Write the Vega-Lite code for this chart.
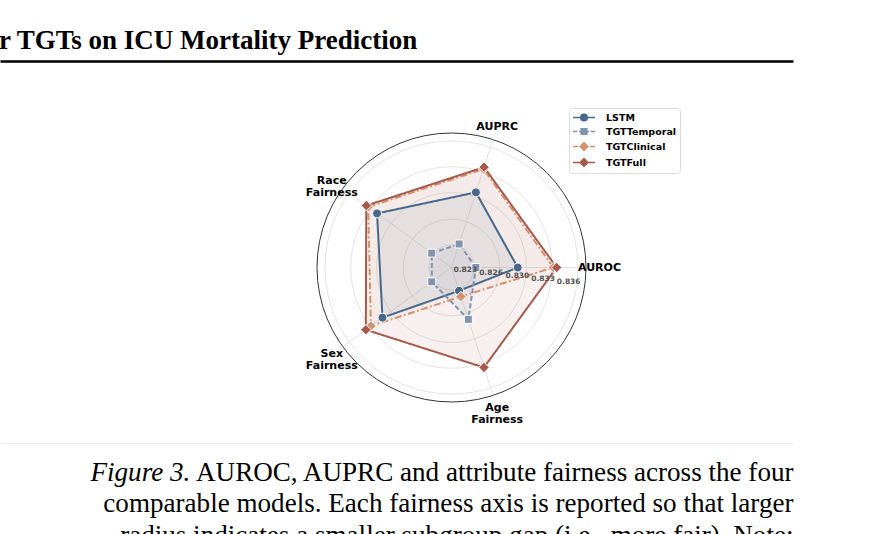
{
  "$schema": "https://vega.github.io/schema/vega-lite/v6.json",
  "width": 793,
  "height": 382,
  "autosize": {"type": "none"},
  "padding": {"left": 0, "top": 61, "right": 90, "bottom": 91},
  "background": "white",
  "title": {
    "text": "r TGTs on ICU Mortality Prediction",
    "anchor": "start",
    "frame": "group",
    "font": "Liberation Serif",
    "fontSize": 27,
    "fontWeight": "bold",
    "color": "black",
    "baseline": "alphabetic",
    "offset": 10,
    "dx": -1,
    "dy": 25
  },
  "datasets": {
    "scores": [
      {"model": "LSTM", "metric": "AUROC", "value": 0.82859},
      {"model": "LSTM", "metric": "AUPRC", "value": 0.83022},
      {"model": "LSTM", "metric": "Race Fairness", "value": 0.83189},
      {"model": "LSTM", "metric": "Sex Fairness", "value": 0.83103},
      {"model": "LSTM", "metric": "Age Fairness", "value": 0.82325},
      {"model": "TGTTemporal", "metric": "AUROC", "value": 0.82324},
      {"model": "TGTTemporal", "metric": "AUPRC", "value": 0.82328},
      {"model": "TGTTemporal", "metric": "Race Fairness", "value": 0.82324},
      {"model": "TGTTemporal", "metric": "Sex Fairness", "value": 0.82324},
      {"model": "TGTTemporal", "metric": "Age Fairness", "value": 0.82709},
      {"model": "TGTClinical", "metric": "AUROC", "value": 0.83314},
      {"model": "TGTClinical", "metric": "AUPRC", "value": 0.83336},
      {"model": "TGTClinical", "metric": "Race Fairness", "value": 0.83329},
      {"model": "TGTClinical", "metric": "Sex Fairness", "value": 0.83286},
      {"model": "TGTClinical", "metric": "Age Fairness", "value": 0.82403},
      {"model": "TGTFull", "metric": "AUROC", "value": 0.83357},
      {"model": "TGTFull", "metric": "AUPRC", "value": 0.83361},
      {"model": "TGTFull", "metric": "Race Fairness", "value": 0.83359},
      {"model": "TGTFull", "metric": "Sex Fairness", "value": 0.83366},
      {"model": "TGTFull", "metric": "Age Fairness", "value": 0.83356}
    ],
    "axes": [
      {"metric": "AUROC", "label": "AUROC"},
      {"metric": "AUPRC", "label": "AUPRC"},
      {"metric": "Race Fairness", "label": "Race\nFairness"},
      {"metric": "Sex Fairness", "label": "Sex\nFairness"},
      {"metric": "Age Fairness", "label": "Age\nFairness"}
    ],
    "rings": [
      {"ring": 0.823},
      {"ring": 0.8263},
      {"ring": 0.8297},
      {"ring": 0.833},
      {"ring": 0.8363}
    ]
  },
  "layer": [
    {
      "data": {"name": "rings"},
      "transform": [
        {"calculate": "(datum.ring - 0.82012) / 0.0172", "as": "rn"},
        {"calculate": "0", "as": "cx"},
        {"calculate": "0", "as": "cy"}
      ],
      "mark": {"type": "point", "shape": "circle", "filled": false, "stroke": "#dcdcdc", "strokeWidth": 0.8, "opacity": 1},
      "encoding": {
        "x": {
          "field": "cx", "type": "quantitative",
          "scale": {"domain": [-3.35688, 2.53903], "nice": false, "zero": false},
          "axis": {
            "orient": "bottom", "domainColor": "#ececec", "domainWidth": 1,
            "ticks": false, "labels": false, "grid": false,
            "title": ["AUROC, AUPRC and attribute fairness across the four", "comparable models. Each fairness axis is reported so that larger", "radius indicates a smaller subgroup gap (i.e., more fair). Note:"],
            "titleFont": "Liberation Serif", "titleFontSize": 27.1, "titleFontWeight": "normal", "titleColor": "black",
            "titleAnchor": "end", "titleAlign": "right", "titleBaseline": "alphabetic",
            "titleLineHeight": 31.7, "titlePadding": 37
          }
        },
        "y": {
          "field": "cy", "type": "quantitative",
          "scale": {"domain": [-1.30483, 1.53532], "nice": false, "zero": false},
          "axis": {
            "orient": "left", "domain": false, "ticks": false, "labels": false,
            "grid": true, "values": [1.53532], "gridColor": "black", "gridWidth": 2.5, "gridOpacity": 1,
            "title": "Figure 3.", "titleAngle": 0, "titleX": 90, "titleY": 419,
            "titleAlign": "left", "titleBaseline": "alphabetic",
            "titleFont": "Liberation Serif", "titleFontSize": 27.1, "titleFontStyle": "italic", "titleFontWeight": "normal", "titleColor": "black"
          }
        },
        "size": {"field": "rn", "type": "quantitative", "scale": {"type": "pow", "exponent": 2, "domain": [0, 1], "range": [0, 72361]}, "legend": null}
      }
    },
    {
      "data": {"values": [{"ring": 0.83732}]},
      "transform": [
        {"calculate": "(datum.ring - 0.82012) / 0.0172", "as": "rn"},
        {"calculate": "0", "as": "cx"},
        {"calculate": "0", "as": "cy"}
      ],
      "mark": {"type": "point", "shape": "circle", "filled": false, "stroke": "#333333", "strokeWidth": 1, "opacity": 1},
      "encoding": {
        "x": {"field": "cx", "type": "quantitative"},
        "y": {"field": "cy", "type": "quantitative"},
        "size": {"field": "rn", "type": "quantitative", "legend": null}
      }
    },
    {
      "data": {"name": "axes"},
      "transform": [
        {"calculate": "indexof(['AUROC', 'AUPRC', 'Race Fairness', 'Sex Fairness', 'Age Fairness'], datum.metric)", "as": "i"},
        {"calculate": "0", "as": "cx"},
        {"calculate": "0", "as": "cy"},
        {"calculate": "cos(datum.i * 2 * PI / 5)", "as": "ex"},
        {"calculate": "sin(datum.i * 2 * PI / 5)", "as": "ey"}
      ],
      "mark": {"type": "rule", "stroke": "#dcdcdc", "strokeWidth": 0.8},
      "encoding": {
        "x": {"field": "cx", "type": "quantitative"},
        "y": {"field": "cy", "type": "quantitative"},
        "x2": {"field": "ex"},
        "y2": {"field": "ey"}
      }
    },
    {
      "data": {"name": "scores"},
      "transform": [
        {"filter": "datum.model === 'TGTFull'"},
        {"calculate": "indexof(['AUROC', 'AUPRC', 'Race Fairness', 'Sex Fairness', 'Age Fairness'], datum.metric)", "as": "i"},
        {"calculate": "(datum.value - 0.82012) / 0.0172", "as": "rn"},
        {"calculate": "datum.rn * cos(datum.i * 2 * PI / 5)", "as": "px"},
        {"calculate": "datum.rn * sin(datum.i * 2 * PI / 5)", "as": "py"}
      ],
      "mark": {"type": "line", "interpolate": "linear-closed", "fill": "#a65a4b", "fillOpacity": 0.09, "strokeOpacity": 0},
      "encoding": {
        "x": {"field": "px", "type": "quantitative"},
        "y": {"field": "py", "type": "quantitative"},
        "order": {"field": "i", "type": "quantitative"}
      }
    },
    {
      "data": {"name": "scores"},
      "transform": [
        {"filter": "datum.model === 'TGTClinical'"},
        {"calculate": "indexof(['AUROC', 'AUPRC', 'Race Fairness', 'Sex Fairness', 'Age Fairness'], datum.metric)", "as": "i"},
        {"calculate": "(datum.value - 0.82012) / 0.0172", "as": "rn"},
        {"calculate": "datum.rn * cos(datum.i * 2 * PI / 5)", "as": "px"},
        {"calculate": "datum.rn * sin(datum.i * 2 * PI / 5)", "as": "py"}
      ],
      "mark": {"type": "line", "interpolate": "linear-closed", "fill": "#d3916f", "fillOpacity": 0.06, "strokeOpacity": 0},
      "encoding": {
        "x": {"field": "px", "type": "quantitative"},
        "y": {"field": "py", "type": "quantitative"},
        "order": {"field": "i", "type": "quantitative"}
      }
    },
    {
      "data": {"name": "scores"},
      "transform": [
        {"filter": "datum.model === 'LSTM'"},
        {"calculate": "indexof(['AUROC', 'AUPRC', 'Race Fairness', 'Sex Fairness', 'Age Fairness'], datum.metric)", "as": "i"},
        {"calculate": "(datum.value - 0.82012) / 0.0172", "as": "rn"},
        {"calculate": "datum.rn * cos(datum.i * 2 * PI / 5)", "as": "px"},
        {"calculate": "datum.rn * sin(datum.i * 2 * PI / 5)", "as": "py"}
      ],
      "mark": {"type": "line", "interpolate": "linear-closed", "fill": "#47678b", "fillOpacity": 0.08, "strokeOpacity": 0},
      "encoding": {
        "x": {"field": "px", "type": "quantitative"},
        "y": {"field": "py", "type": "quantitative"},
        "order": {"field": "i", "type": "quantitative"}
      }
    },
    {
      "data": {"name": "scores"},
      "transform": [
        {"filter": "datum.model === 'TGTTemporal'"},
        {"calculate": "indexof(['AUROC', 'AUPRC', 'Race Fairness', 'Sex Fairness', 'Age Fairness'], datum.metric)", "as": "i"},
        {"calculate": "(datum.value - 0.82012) / 0.0172", "as": "rn"},
        {"calculate": "datum.rn * cos(datum.i * 2 * PI / 5)", "as": "px"},
        {"calculate": "datum.rn * sin(datum.i * 2 * PI / 5)", "as": "py"}
      ],
      "mark": {"type": "line", "interpolate": "linear-closed", "fill": "#8193ad", "fillOpacity": 0.1, "strokeOpacity": 0},
      "encoding": {
        "x": {"field": "px", "type": "quantitative"},
        "y": {"field": "py", "type": "quantitative"},
        "order": {"field": "i", "type": "quantitative"}
      }
    },
    {
      "data": {"name": "scores"},
      "transform": [
        {"calculate": "indexof(['AUROC', 'AUPRC', 'Race Fairness', 'Sex Fairness', 'Age Fairness'], datum.metric)", "as": "i"},
        {"calculate": "(datum.value - 0.82012) / 0.0172", "as": "rn"},
        {"calculate": "datum.rn * cos(datum.i * 2 * PI / 5)", "as": "px"},
        {"calculate": "datum.rn * sin(datum.i * 2 * PI / 5)", "as": "py"}
      ],
      "mark": {"type": "line", "interpolate": "linear-closed", "strokeWidth": 2},
      "encoding": {
        "x": {"field": "px", "type": "quantitative"},
        "y": {"field": "py", "type": "quantitative"},
        "color": {
          "field": "model", "type": "nominal",
          "scale": {"domain": ["TGTFull", "TGTClinical", "TGTTemporal", "LSTM"], "range": ["#a65a4b", "#d3916f", "#8193ad", "#47678b"]},
          "legend": null
        },
        "strokeDash": {
          "field": "model", "type": "nominal",
          "scale": {"domain": ["TGTClinical", "TGTFull", "LSTM", "TGTTemporal"], "range": [[7, 2.5, 1.8, 2.5], [1, 0], [1, 0], [5, 2.5]]},
          "legend": null
        },
        "order": {"field": "i", "type": "quantitative"}
      }
    },
    {
      "data": {"name": "scores"},
      "transform": [
        {"filter": "datum.model === 'LSTM'"},
        {"calculate": "indexof(['AUROC', 'AUPRC', 'Race Fairness', 'Sex Fairness', 'Age Fairness'], datum.metric)", "as": "i"},
        {"calculate": "(datum.value - 0.82012) / 0.0172", "as": "rn"},
        {"calculate": "datum.rn * cos(datum.i * 2 * PI / 5)", "as": "px"},
        {"calculate": "datum.rn * sin(datum.i * 2 * PI / 5)", "as": "py"}
      ],
      "mark": {"type": "point", "shape": "circle", "filled": true, "size": 80, "stroke": "white", "strokeWidth": 1, "opacity": 1},
      "encoding": {
        "x": {"field": "px", "type": "quantitative"},
        "y": {"field": "py", "type": "quantitative"},
        "color": {"field": "model", "type": "nominal", "legend": null}
      }
    },
    {
      "data": {"name": "scores"},
      "transform": [
        {"filter": "datum.model === 'TGTTemporal'"},
        {"calculate": "indexof(['AUROC', 'AUPRC', 'Race Fairness', 'Sex Fairness', 'Age Fairness'], datum.metric)", "as": "i"},
        {"calculate": "(datum.value - 0.82012) / 0.0172", "as": "rn"},
        {"calculate": "datum.rn * cos(datum.i * 2 * PI / 5)", "as": "px"},
        {"calculate": "datum.rn * sin(datum.i * 2 * PI / 5)", "as": "py"}
      ],
      "mark": {"type": "point", "shape": "square", "filled": true, "size": 64, "stroke": "white", "strokeWidth": 1, "opacity": 1},
      "encoding": {
        "x": {"field": "px", "type": "quantitative"},
        "y": {"field": "py", "type": "quantitative"},
        "color": {"field": "model", "type": "nominal", "legend": null}
      }
    },
    {
      "data": {"name": "scores"},
      "transform": [
        {"filter": "datum.model === 'TGTClinical' || datum.model === 'TGTFull'"},
        {"calculate": "indexof(['AUROC', 'AUPRC', 'Race Fairness', 'Sex Fairness', 'Age Fairness'], datum.metric)", "as": "i"},
        {"calculate": "(datum.value - 0.82012) / 0.0172", "as": "rn"},
        {"calculate": "datum.rn * cos(datum.i * 2 * PI / 5)", "as": "px"},
        {"calculate": "datum.rn * sin(datum.i * 2 * PI / 5)", "as": "py"}
      ],
      "mark": {"type": "point", "shape": "diamond", "filled": true, "size": 110, "stroke": "white", "strokeWidth": 1, "opacity": 1},
      "encoding": {
        "x": {"field": "px", "type": "quantitative"},
        "y": {"field": "py", "type": "quantitative"},
        "color": {"field": "model", "type": "nominal", "legend": null}
      }
    },
    {
      "data": {"name": "scores"},
      "transform": [{"filter": "false"}],
      "mark": {"type": "point", "filled": true, "opacity": 1},
      "encoding": {
        "fill": {
          "field": "model", "type": "nominal",
          "scale": {"domain": ["LSTM", "TGTTemporal", "TGTClinical", "TGTFull"], "range": ["#47678b", "#8193ad", "#d3916f", "#a65a4b"]},
          "legend": {
            "orient": "none", "legendX": 569, "legendY": 47, "title": null,
            "padding": 3, "fillColor": "white", "strokeColor": "#dcdcdc", "cornerRadius": 3,
            "labelFont": "DejaVu Sans", "labelFontWeight": "bold", "labelFontSize": 9.5, "labelColor": "black",
            "labelOffset": 21, "rowPadding": 1, "symbolSize": 121, "symbolStrokeWidth": 1.5, "symbolOpacity": 1
          }
        },
        "stroke": {
          "field": "model", "type": "nominal",
          "scale": {"domain": ["LSTM", "TGTTemporal", "TGTClinical", "TGTFull"], "range": ["#47678b", "#8193ad", "#d3916f", "#a65a4b"]},
          "legend": {
            "orient": "none", "legendX": 569, "legendY": 47, "title": null,
            "padding": 3, "fillColor": "white", "strokeColor": "#dcdcdc", "cornerRadius": 3,
            "labelFont": "DejaVu Sans", "labelFontWeight": "bold", "labelFontSize": 9.5, "labelColor": "black",
            "labelOffset": 21, "rowPadding": 1, "symbolSize": 121, "symbolStrokeWidth": 1.5, "symbolOpacity": 1
          }
        },
        "shape": {
          "field": "model", "type": "nominal",
          "scale": {
            "domain": ["LSTM", "TGTTemporal", "TGTClinical", "TGTFull"],
            "range": [
              "M-1,0H0.32M1.68,0H3M0.4,0A0.6,0.6,0,1,1,1.6,0A0.6,0.6,0,1,1,0.4,0Z",
              "M-1,0H-0.2M0.1,0H0.35M1.65,0H1.9M2.2,0H3M0.48,-0.52H1.52V0.52H0.48Z",
              "M-1,0H-0.05M0.2,0H0.32M1.68,0H1.8M2.05,0H3M1,-0.7L1.7,0L1,0.7L0.3,0Z",
              "M-1,0H0.3M1.7,0H3M1,-0.7L1.7,0L1,0.7L0.3,0Z"
            ]
          },
          "legend": {
            "orient": "none", "legendX": 569, "legendY": 47, "title": null,
            "padding": 3, "fillColor": "white", "strokeColor": "#dcdcdc", "cornerRadius": 3,
            "labelFont": "DejaVu Sans", "labelFontWeight": "bold", "labelFontSize": 9.5, "labelColor": "black",
            "labelOffset": 21, "rowPadding": 1, "symbolSize": 121, "symbolStrokeWidth": 1.5, "symbolOpacity": 1
          }
        }
      }
    },
    {
      "data": {"name": "axes"},
      "transform": [
        {"calculate": "indexof(['AUROC', 'AUPRC', 'Race Fairness', 'Sex Fairness', 'Age Fairness'], datum.metric)", "as": "i"},
        {"calculate": "1.1 * cos(datum.i * 2 * PI / 5)", "as": "lx"},
        {"calculate": "1.1 * sin(datum.i * 2 * PI / 5)", "as": "ly"}
      ],
      "mark": {"type": "text", "font": "DejaVu Sans", "fontWeight": "bold", "fontSize": 11, "lineBreak": "\n", "lineHeight": 12, "align": "center", "baseline": "middle", "color": "black"},
      "encoding": {
        "x": {"field": "lx", "type": "quantitative"},
        "y": {"field": "ly", "type": "quantitative"},
        "text": {"field": "label", "type": "nominal"}
      }
    },
    {
      "data": {"name": "rings"},
      "transform": [
        {"calculate": "(datum.ring - 0.82012) / 0.0172", "as": "rn"},
        {"calculate": "datum.rn * cos(-0.115)", "as": "tx"},
        {"calculate": "datum.rn * sin(-0.115)", "as": "ty"}
      ],
      "mark": {"type": "text", "font": "DejaVu Sans", "fontWeight": "bold", "fontSize": 7.5, "color": "#555555", "dx": -8.5, "align": "center", "baseline": "middle"},
      "encoding": {
        "x": {"field": "tx", "type": "quantitative"},
        "y": {"field": "ty", "type": "quantitative"},
        "text": {"field": "ring", "type": "quantitative", "format": ".3f"}
      }
    }
  ],
  "config": {"view": {"stroke": null}}
}
